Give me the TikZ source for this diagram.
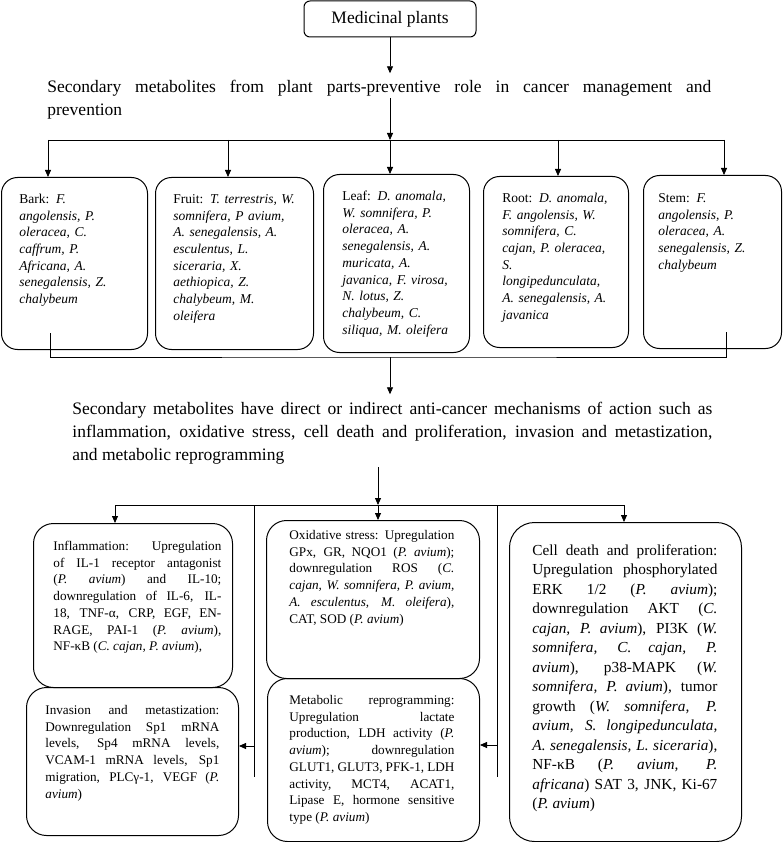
\documentclass[tikz,border=0pt]{standalone}
\usepackage{fontspec}
\setmainfont{Liberation Serif}
\usetikzlibrary{arrows.meta, positioning, calc}

\begin{document}
\begin{tikzpicture}[x=1pt, y=-1pt, line width=0.8pt,
    >={Triangle[length=7pt, width=6pt]},
    partbox/.style={draw, line width=1pt, rounded corners=16pt, anchor=north west, inner sep=0pt},
    mechbox/.style={draw, line width=1pt, rounded corners=20pt, anchor=north west, inner sep=0pt},
    heading/.style={anchor=base west, inner xsep=0pt, inner ysep=7pt, text width=#1, align=justify, font=\fontsize{17.5}{23}\selectfont},
    parttext/.style={anchor=base west, inner sep=0pt, text width=122pt, align=left, font=\fontsize{13.5}{16.7}\selectfont},
    mechtext/.style={anchor=base west, inner sep=0pt, text width=#1, align=justify, font=\fontsize{13.2}{16.7}\selectfont}]
    \useasboundingbox (0,0) rectangle (782,842);

    % Ausgangspunkt
    \node[draw, line width=1pt, rounded corners=6pt, minimum width=172pt, minimum height=36pt, font=\fontsize{17.5}{21}\selectfont] (plants) at (390,19) {Medicinal plants};
    \node[heading=664pt] (role) at (47,93) {Secondary metabolites from plant parts-preventive role in cancer management and\linebreak prevention};
    \draw[->] (plants) -- (plants |- role.north);

    % Verteilung auf die Pflanzenteile
    \coordinate (gap1) at (390,98);
    \coordinate (hub1) at (390,140);
    \draw[->] (gap1) -- (hub1);
    \draw (48,140) -- (724,140);

    \node[partbox, minimum width=146pt, minimum height=172pt] (bark) at (1,177) {};
    \node[partbox, minimum width=158pt, minimum height=172pt] (fruit) at (155,177) {};
    \node[partbox, minimum width=146pt, minimum height=178pt] (leaf) at (323,174) {};
    \node[partbox, minimum width=145pt, minimum height=171pt] (root) at (483,176) {};
    \node[partbox, minimum width=138pt, minimum height=173pt] (stem) at (643,175) {};
    \foreach \part/\px in {bark/48, fruit/228, leaf/390, root/558, stem/724}
        \draw[->] (\px,140) -- (\px,140 |- \part.north);

    \node[parttext] (barktxt) at (19,203.5) {Bark: \textit{F.}\\ \textit{angolensis, P.}\\ \textit{oleracea, C.}\\ \textit{caffrum, P.}\\ \textit{Africana, A.}\\ \textit{senegalensis, Z.}\\ \textit{chalybeum}};
    \node[parttext] (fruittxt) at (173,203.5) {Fruit: \textit{T. terrestris, W.}\\ \textit{somnifera, P avium,}\\ \textit{A. senegalensis, A.}\\ \textit{esculentus, L.}\\ \textit{siceraria, X.}\\ \textit{aethiopica, Z.}\\ \textit{chalybeum, M.}\\ \textit{oleifera}};
    \node[parttext] (leaftxt) at (342,200.5) {Leaf: \textit{D. anomala,}\\ \textit{W. somnifera, P.}\\ \textit{oleracea, A.}\\ \textit{senegalensis, A.}\\ \textit{muricata, A.}\\ \textit{javanica, F. virosa,}\\ \textit{N. lotus, Z.}\\ \textit{chalybeum, C.}\\ \textit{siliqua, M. oleifera}};
    \node[parttext] (roottxt) at (502,202.5) {Root: \textit{D. anomala,}\\ \textit{F. angolensis, W.}\\ \textit{somnifera, C.}\\ \textit{cajan, P. oleracea,}\\ \textit{S.}\\ \textit{longipedunculata,}\\ \textit{A. senegalensis, A.}\\ \textit{javanica}};
    \node[parttext] (stemtxt) at (658,202.5) {Stem: \textit{F.}\\ \textit{angolensis, P.}\\ \textit{oleracea, A.}\\ \textit{senegalensis, Z.}\\ \textit{chalybeum}};

    % Zusammenfuehrung
    \coordinate (barkfoot) at (50,333);
    \coordinate (stemfoot) at (726,332);
    \coordinate (hub2) at (390,357);
    \draw (barkfoot) |- (hub2) -| (stemfoot);
    \node[heading=640pt] (action) at (72,414) {Secondary metabolites have direct or indirect anti-cancer mechanisms of action such as\linebreak inflammation, oxidative stress, cell death and proliferation, invasion and metastization,\linebreak and metabolic reprogramming};
    \draw[->] (hub2) -- (hub2 |- action.north);

    % Wirkmechanismen
    \coordinate (gap2) at (378,467);
    \coordinate (hub3) at (378,505);
    \draw[->] (gap2) -- (hub3);
    \draw (115,505) -- (624,505);

    \node[mechbox, minimum width=199pt, minimum height=164pt] (inflam) at (33,523) {};
    \node[mechbox, minimum width=212pt, minimum height=148pt] (invasion) at (26,687) {};
    \node[mechbox, minimum width=213pt, minimum height=158pt] (oxid) at (266,520) {};
    \node[mechbox, minimum width=212pt, minimum height=163pt] (metab) at (267,678) {};
    \node[mechbox, rounded corners=25pt, minimum width=232pt, minimum height=319pt] (cell) at (509,522) {};
    \foreach \mech/\px in {inflam/115, oxid/378, cell/624}
        \draw[->] (\px,505) -- (\px,505 |- \mech.north);

    \coordinate (leftbus) at (254,746);
    \coordinate (rightbus) at (497,745);
    \draw (254,505) -- (254,777);
    \draw (497,505) -- (497,777);
    \draw[->] (leftbus) -- (invasion.east |- leftbus);
    \draw[->] (rightbus) -- (metab.east |- rightbus);

    \node[mechtext=168pt] (inflamtxt) at (53,550.5) {Inflammation: Upregulation\linebreak of IL-1 receptor antagonist\linebreak (\textit{P. avium}) and IL-10;\linebreak downregulation of IL-6, IL-\linebreak 18, TNF-α, CRP, EGF, EN-\linebreak RAGE, PAI-1 (\textit{P. avium}),\linebreak NF-κB (\textit{C. cajan, P. avium}),};
    \node[mechtext=165pt] (oxidtxt) at (289,539.5) {Oxidative stress: Upregulation\linebreak GPx, GR, NQO1 (\textit{P. avium});\linebreak downregulation ROS (\textit{C.}\linebreak \textit{cajan, W. somnifera, P. avium,}\linebreak \textit{A. esculentus, M. oleifera}),\linebreak CAT, SOD (\textit{P. avium})};
    \node[mechtext=165pt] (metabtxt) at (289,704.5) {Metabolic reprogramming:\linebreak Upregulation lactate\linebreak production, LDH activity (\textit{P.}\linebreak \textit{avium}); downregulation\linebreak GLUT1, GLUT3, PFK-1, LDH\linebreak activity, MCT4, ACAT1,\linebreak Lipase E, hormone sensitive\linebreak type (\textit{P. avium})};
    \node[mechtext=174pt] (invasiontxt) at (45,714.5) {Invasion and metastization:\linebreak Downregulation Sp1 mRNA\linebreak levels, Sp4 mRNA levels,\linebreak VCAM-1 mRNA levels, Sp1\linebreak migration, PLCγ-1, VEGF (\textit{P.}\linebreak \textit{avium})};
    \node[mechtext=185pt, font=\fontsize{15.3}{19.5}\selectfont] (celltxt) at (532,555) {Cell death and proliferation:\linebreak Upregulation phosphorylated\linebreak ERK 1/2 (\textit{P. avium});\linebreak downregulation AKT (\textit{C.}\linebreak \textit{cajan, P. avium}), PI3K (\textit{W.}\linebreak \textit{somnifera, C. cajan, P.}\linebreak \textit{avium}), p38-MAPK (\textit{W.}\linebreak \textit{somnifera, P. avium}), tumor\linebreak growth (\textit{W. somnifera, P.}\linebreak \textit{avium, S. longipedunculata,}\linebreak \textit{A. senegalensis, L. siceraria}),\linebreak NF-κB (\textit{P. avium, P.}\linebreak \textit{africana}) SAT 3, JNK, Ki-67\linebreak (\textit{P. avium})};
\end{tikzpicture}
\end{document}
